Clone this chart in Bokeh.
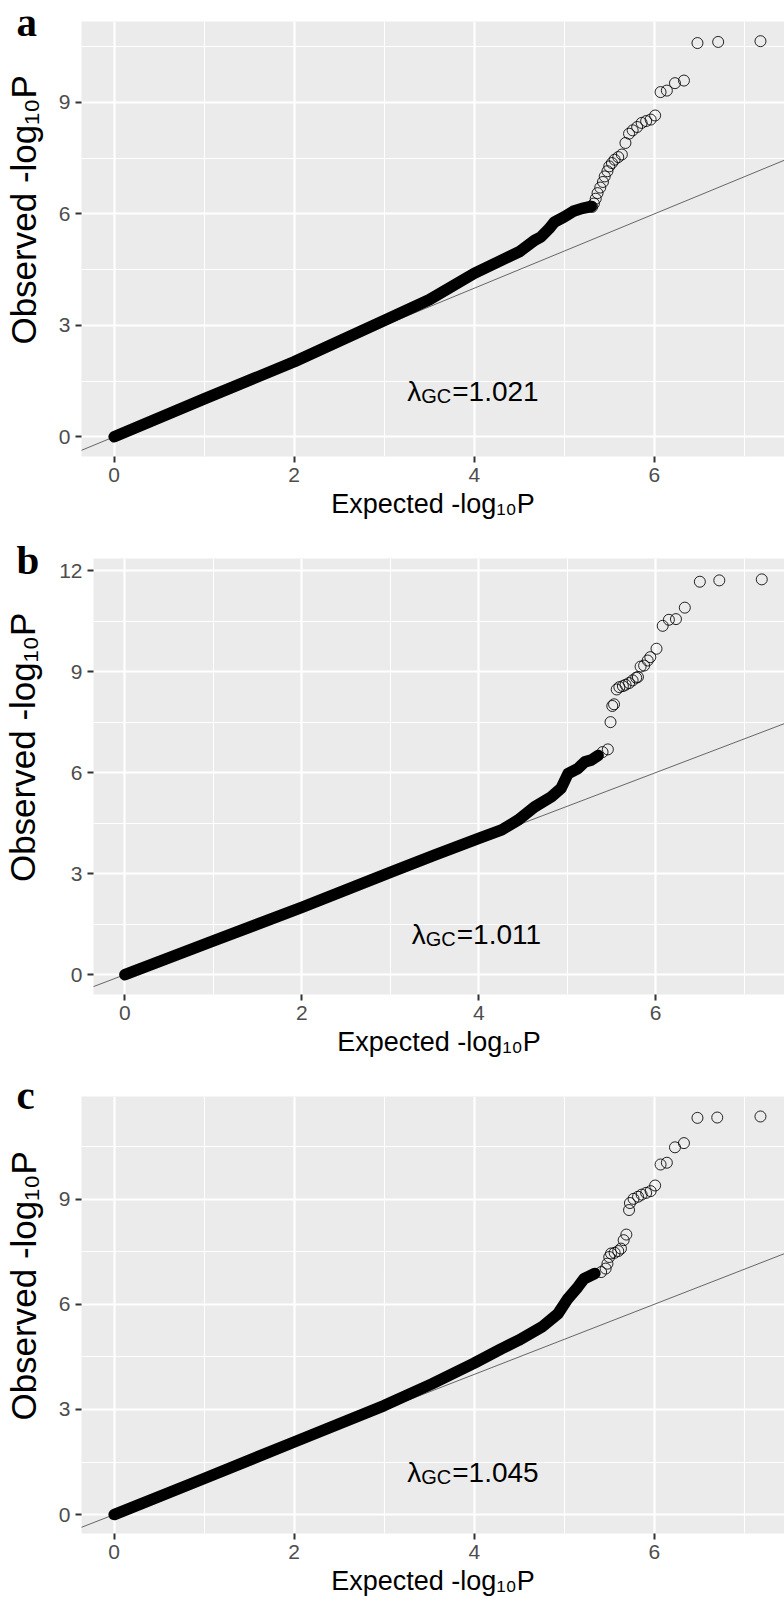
from bokeh.plotting import figure
from bokeh.models import Range1d, FixedTicker, Slope, Label, Title
from bokeh.embed import file_html
from bokeh.resources import INLINE

# ---------------- data ----------------
panel_letters = ["a", "b", "c"]
lambda_gc = ["1.021", "1.011", "1.045"]

x_ticks = [0, 2, 4, 6]
x_minor = [1, 3, 5, 7]
y_ticks_a = [0, 3, 6, 9]
y_ticks_b = [0, 3, 6, 9, 12]
y_ticks_c = [0, 3, 6, 9]
y_minor = [1.5, 4.5, 7.5, 10.5]

# dense part of each QQ curve (overlapping points form a solid band)
a_band_x = [0, 1, 2, 3, 3.5, 4, 4.3, 4.5, 4.67, 4.74, 4.83, 4.89, 5.0, 5.1, 5.2, 5.3]
a_band_y = [0, 1.02, 2.02, 3.13, 3.69, 4.40, 4.75, 4.98, 5.29, 5.38, 5.60, 5.78, 5.92, 6.07, 6.15, 6.20]
# sparse tail (individual open circles)
a_tail_x = [5.31, 5.33, 5.35, 5.37, 5.40, 5.43, 5.45, 5.48, 5.50, 5.53, 5.56, 5.60, 5.64,
            5.68, 5.72, 5.76, 5.81, 5.86, 5.91, 5.96, 6.01, 6.07, 6.14, 6.23, 6.33, 6.48, 6.71, 7.18]
a_tail_y = [6.19, 6.28, 6.41, 6.56, 6.71, 6.86, 7.01, 7.15, 7.28, 7.37, 7.46, 7.53, 7.60,
            7.91, 8.16, 8.25, 8.34, 8.45, 8.50, 8.54, 8.65, 9.28, 9.32, 9.52, 9.59, 10.60, 10.63, 10.65]

b_band_x = [0, 1, 2, 3, 3.5, 4, 4.26, 4.45, 4.63, 4.82, 4.93, 5.01, 5.12, 5.20, 5.27, 5.35]
b_band_y = [0, 1.0, 2.0, 3.04, 3.55, 4.05, 4.30, 4.60, 4.98, 5.28, 5.53, 5.97, 6.12, 6.32, 6.37, 6.51]
b_tail_x = [5.40, 5.46, 5.49, 5.51, 5.53, 5.56, 5.59, 5.63, 5.66, 5.70, 5.74, 5.78,
            5.80, 5.83, 5.87, 5.91, 5.94, 6.01, 6.08, 6.15, 6.23, 6.33, 6.50, 6.72, 7.20]
b_tail_y = [6.61, 6.69, 7.50, 7.98, 8.03, 8.47, 8.54, 8.57, 8.61, 8.66, 8.74, 8.82,
            8.84, 9.15, 9.18, 9.33, 9.43, 9.68, 10.36, 10.54, 10.56, 10.90, 11.67, 11.71, 11.74]

c_band_x = [0, 1, 2, 3, 3.53, 4, 4.30, 4.49, 4.75, 4.93, 5.04, 5.15, 5.22, 5.34]
c_band_y = [0, 1.03, 2.07, 3.11, 3.73, 4.32, 4.73, 4.97, 5.35, 5.73, 6.16, 6.49, 6.73, 6.88]
c_tail_x = [5.41, 5.46, 5.48, 5.50, 5.52, 5.56, 5.60, 5.63, 5.66, 5.69, 5.72, 5.73, 5.77, 5.82,
            5.86, 5.91, 5.96, 6.01, 6.07, 6.14, 6.23, 6.33, 6.48, 6.70, 7.18]
c_tail_y = [6.92, 7.02, 7.16, 7.35, 7.45, 7.47, 7.52, 7.59, 7.83, 7.99, 8.69, 8.89, 9.01, 9.07,
            9.13, 9.18, 9.23, 9.39, 9.99, 10.04, 10.48, 10.60, 11.32, 11.33, 11.36]

# ---------------- styling ----------------
SANS = "Liberation Sans"
SERIF = "Liberation Serif"
BG = "#EBEBEB"
NB = "\u00a0"


def make_panel(letter, lam, band_x, band_y, tail_x, tail_y, y_ticks,
               xr, yr, height, frame_left, frame_top, frame_h, ylab_standoff, letter_standoff):
    p = figure(width=784, height=height,
               x_range=Range1d(*xr), y_range=Range1d(*yr),
               output_backend="svg", toolbar_location=None,
               min_border_left=frame_left, min_border_right=0,
               min_border_top=frame_top,
               min_border_bottom=height - frame_top - frame_h)
    p.background_fill_color = BG
    p.border_fill_color = "white"
    p.outline_line_color = None

    xt = FixedTicker(ticks=x_ticks, minor_ticks=x_minor)
    yt = FixedTicker(ticks=y_ticks, minor_ticks=y_minor)
    p.xaxis.ticker = xt
    p.yaxis.ticker = yt
    p.xgrid.ticker = xt
    p.ygrid.ticker = yt
    for g in (p.xgrid[0], p.ygrid[0]):
        g.grid_line_color = "white"
        g.grid_line_width = 2.2
        g.minor_grid_line_color = "white"
        g.minor_grid_line_width = 1.1

    for ax in (p.xaxis[0], p.yaxis[0]):
        ax.axis_line_color = None
        ax.major_tick_line_color = "#333333"
        ax.major_tick_line_width = 2
        ax.major_tick_out = 6
        ax.major_tick_in = 0
        ax.minor_tick_line_color = None
        ax.major_label_text_font = SANS
        ax.major_label_text_font_size = "21px"
        ax.major_label_text_color = "#4D4D4D"
        ax.major_label_standoff = 5
        ax.axis_label_text_font = SANS
        ax.axis_label_text_font_style = "normal"
        ax.axis_label_text_color = "black"
    p.xaxis[0].axis_label = "Expected -log\u2081\u2080P"
    p.xaxis[0].axis_label_text_font_size = "27px"
    p.xaxis[0].axis_label_standoff = 4
    # leading no-break spaces move the centred title a little upwards, as in the original
    p.yaxis[0].axis_label = NB * 6 + "Observed -log\u2081\u2080P"
    p.yaxis[0].axis_label_text_font_size = "35px"
    p.yaxis[0].axis_label_standoff = ylab_standoff

    # reference line y = x, below the points
    p.add_layout(Slope(gradient=1, y_intercept=0, line_color="#666666",
                       line_width=1, level="underlay"))

    # dense band of overlapping points
    p.line(band_x, band_y, line_width=11.5, line_color="black",
           line_cap="round", line_join="round")
    # sparse tail points
    p.scatter(tail_x, tail_y, marker="circle", size=11, fill_color=None,
              line_color="black", line_width=1, line_alpha=0.85)

    # lambda_GC annotation centred at (4, 1.5)
    p.add_layout(Label(x=4, y=1.5, text="\u03bb", text_align="left",
                       text_baseline="alphabetic", x_offset=-67, y_offset=-10,
                       text_font=SANS, text_font_size="28px", text_color="black"))
    p.add_layout(Label(x=4, y=1.5, text="GC", text_align="left",
                       text_baseline="alphabetic", x_offset=-53, y_offset=-15,
                       text_font=SANS, text_font_size="20px", text_color="black"))
    p.add_layout(Label(x=4, y=1.5, text="=" + lam, text_align="left",
                       text_baseline="alphabetic", x_offset=-22, y_offset=-10,
                       text_font=SANS, text_font_size="28px", text_color="black"))

    # panel letter: a title in the top panel, pulled left into the margin
    p.add_layout(Title(text=letter, align="left", vertical_align="bottom",
                       offset=14 - frame_left, standoff=letter_standoff,
                       text_font=SERIF, text_font_style="bold",
                       text_font_size="41px", text_color="black"), "above")
    return p


pa = make_panel(panel_letters[0], lambda_gc[0], a_band_x, a_band_y, a_tail_x, a_tail_y,
                y_ticks_a, (-0.363, 7.447), (-0.53, 11.18), 534, 79, 21, 435, 13, -47)
pb = make_panel(panel_letters[1], lambda_gc[1], b_band_x, b_band_y, b_tail_x, b_tail_y,
                y_ticks_b, (-0.355, 7.457), (-0.59, 12.36), 534, 91, 24, 436, 14, -48)
pc = make_panel(panel_letters[2], lambda_gc[2], c_band_x, c_band_y, c_tail_x, c_tail_y,
                y_ticks_c, (-0.363, 7.447), (-0.54, 11.93), 535, 79, 28, 437, 13, -42)

open("out.html", "w").write(file_html([pa, pb, pc], INLINE))
